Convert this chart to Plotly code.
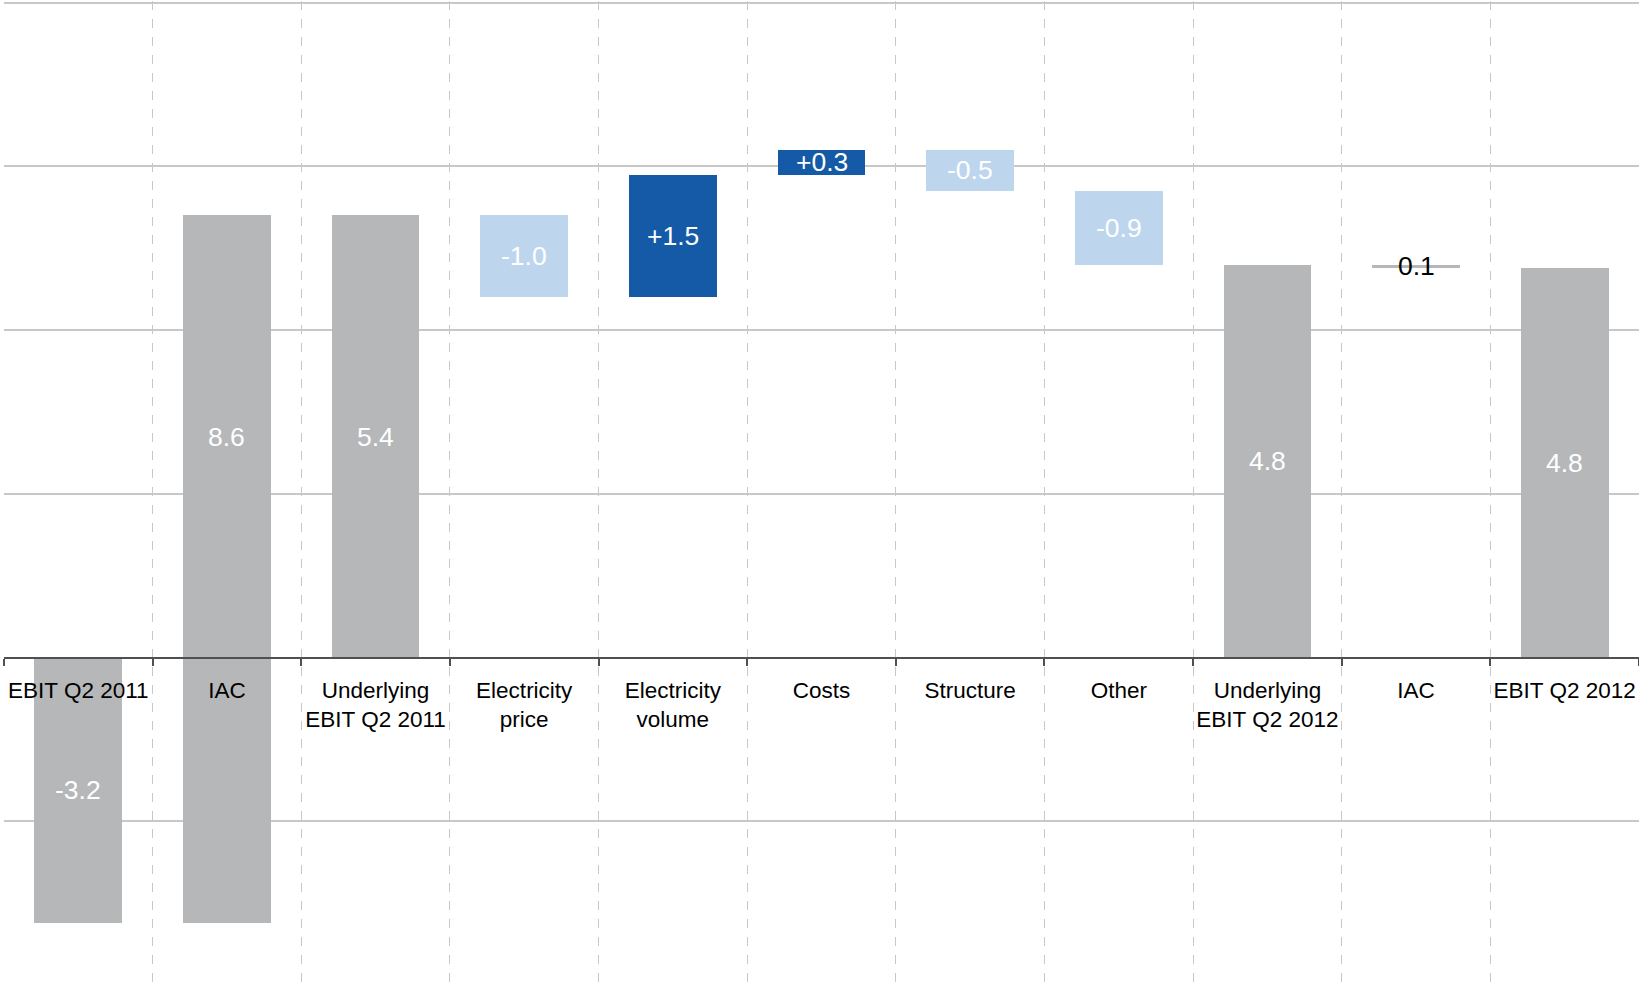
import plotly.graph_objects as go

categories = ["EBIT Q2 2011", "IAC", "Underlying<br>EBIT Q2 2011", "Electricity<br>price",
              "Electricity<br>volume", "Costs", "Structure", "Other",
              "Underlying<br>EBIT Q2 2012", "IAC", "EBIT Q2 2012"]
values = [-3.24, 8.64, 5.4, -1.0, 1.5, 0.3, -0.5, -0.9, 4.8, -0.04, 4.76]
measures = ["relative", "relative", "total", "relative", "relative", "relative",
            "relative", "relative", "total", "relative", "total"]
value_labels = ["-3.2", "8.6", "5.4", "-1.0", "+1.5", "+0.3", "-0.5", "-0.9", "4.8", "0.1", "4.8"]
kinds = ["gray", "gray", "gray", "neg", "pos", "pos", "neg", "neg", "gray", "gray", "gray"]

palette = {"gray": "#B6B7B9", "neg": "#BDD6EE", "pos": "#145AA7"}

# compute bases / ends
bases, heights = [], []
running = 0.0
for v, m in zip(values, measures):
    if m == "total":
        bases.append(0.0)
        heights.append(v)
        running = v
    else:
        bases.append(running)
        heights.append(v)
        running = running + v

xs = list(range(len(categories)))
colors = [palette[k] for k in kinds]

fig = go.Figure()
fig.add_trace(go.Bar(
    x=xs, y=heights, base=bases, width=0.59,
    marker=dict(color=colors, line=dict(width=0)),
    hoverinfo="skip", showlegend=False,
))

FONT = "Arial, Liberation Sans, sans-serif"
for i, (b, h, t) in enumerate(zip(bases, heights, value_labels)):
    lo, hi = min(b, b + h), max(b, b + h)
    if lo < 0 < hi:
        ymid = hi / 2
    else:
        ymid = (lo + hi) / 2
    thin = abs(h) < 0.2
    fig.add_annotation(
        x=i, y=ymid, text=t, showarrow=False,
        font=dict(family=FONT, size=26.5, color="#000000" if thin else "#FFFFFF"),
        xanchor="center", yanchor="middle",
    )

ymin, ymax = -4, 8.02
fig.update_layout(
    width=1639, height=985,
    margin=dict(l=4, r=0, t=1, b=0),
    paper_bgcolor="white", plot_bgcolor="white",
    bargap=0,
    font=dict(family=FONT, color="#000000"),
    xaxis=dict(
        range=[-0.5, len(categories) - 0.5],
        tickmode="array", tickvals=xs, ticktext=categories,
        tickfont=dict(family=FONT, size=22.5, color="#000000"),
        ticks="", showgrid=False, zeroline=False,
        showline=True, linecolor="#505050", linewidth=2,
        anchor="free", position=(0 - ymin) / (ymax - ymin),
        ticklabelstandoff=12,
        minor=dict(
            tickmode="array",
            tickvals=[i - 0.5 for i in range(len(categories) + 1)],
            ticks="outside", ticklen=7, tickwidth=1.5, tickcolor="#505050",
            showgrid=True, griddash="dash", gridcolor="#C8C8C8", gridwidth=1,
        ),
        fixedrange=True,
    ),
    yaxis=dict(
        range=[ymin, ymax], dtick=2, tick0=0,
        showticklabels=False, ticks="",
        showgrid=True, gridcolor="#C8C8C8", gridwidth=1.5,
        zeroline=False, showline=False, fixedrange=True,
    ),
)

fig.write_html("out.html")
